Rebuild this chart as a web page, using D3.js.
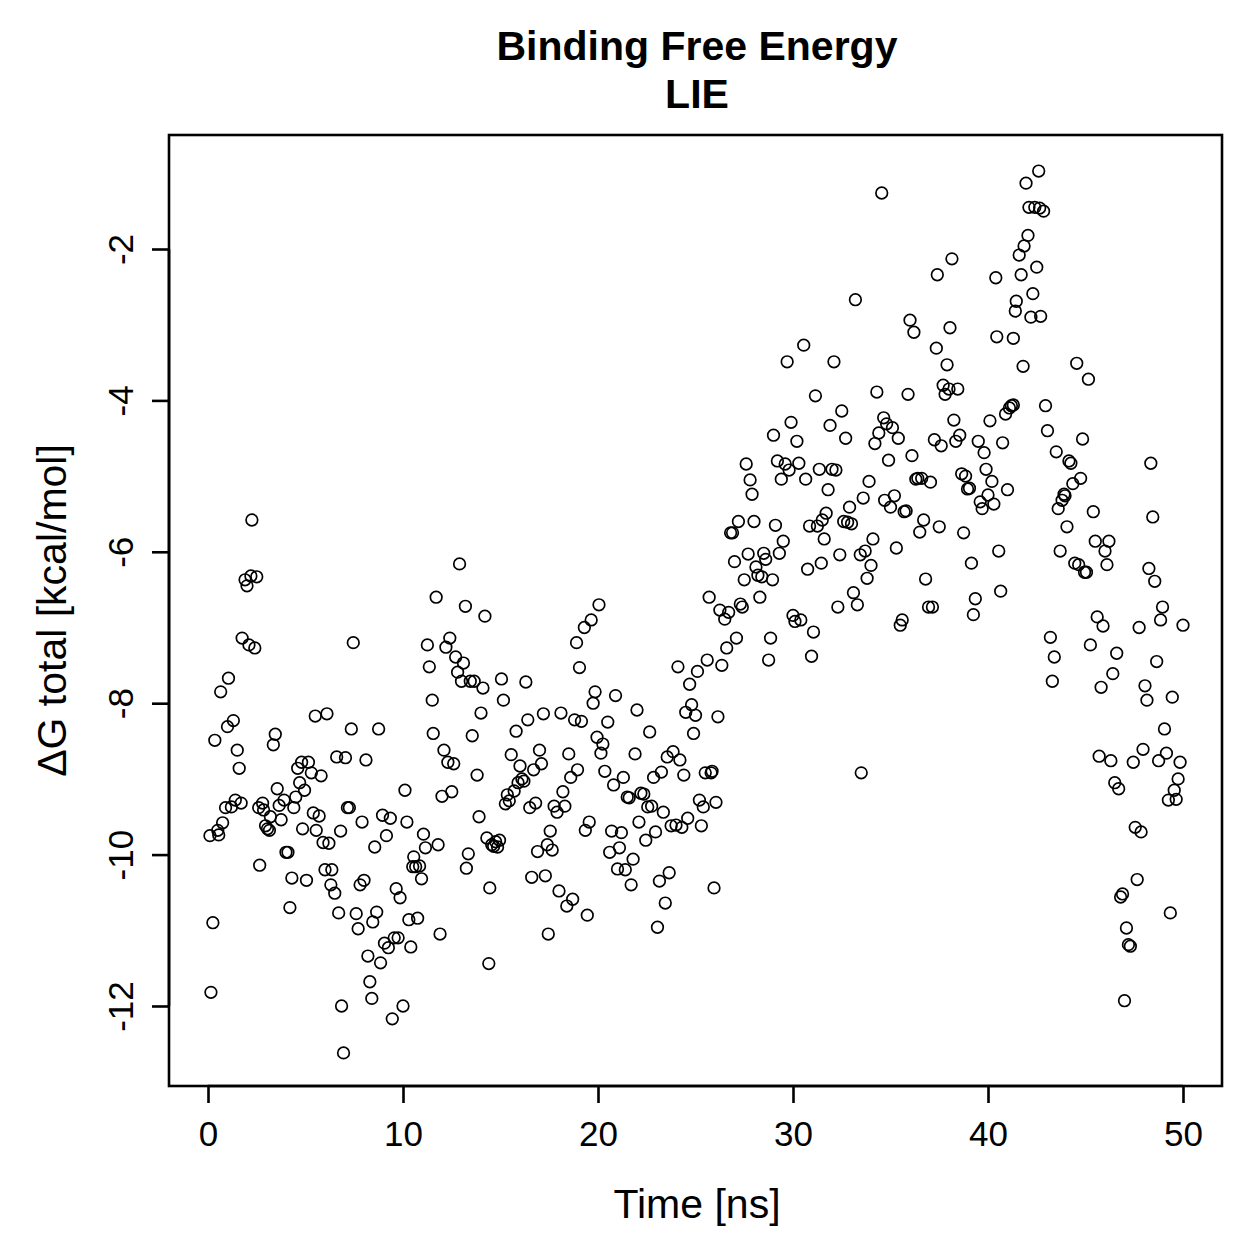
<!DOCTYPE html>
<html><head><meta charset="utf-8">
<script src="https://cdn.jsdelivr.net/npm/d3@7"></script>
<style>body{margin:0;background:#fff}</style>
</head><body>
<script>
const xTicks = [0, 10, 20, 30, 40, 50];
const yTicks = [-12, -10, -8, -6, -4, -2];
const time = [0.1,0.15,0.25,0.35,0.5,0.55,0.65,0.75,0.9,1.0,1.05,1.2,1.3,1.4,1.5,1.6,1.7,1.75,1.9,2.0,2.1,2.2,2.25,2.4,2.5,2.6,2.65,2.8,2.85,2.95,3.05,3.15,3.2,3.35,3.45,3.55,3.65,3.75,3.9,4.0,4.1,4.2,4.3,4.4,4.5,4.6,4.7,4.8,4.85,4.95,5.05,5.15,5.3,5.4,5.5,5.55,5.7,5.8,5.9,6.0,6.1,6.2,6.3,6.35,6.5,6.6,6.7,6.8,6.85,6.95,7.05,7.15,7.25,7.35,7.45,7.6,7.7,7.8,7.9,8.0,8.1,8.2,8.3,8.4,8.45,8.55,8.65,8.75,8.85,8.95,9.05,9.15,9.25,9.35,9.45,9.55,9.65,9.75,9.85,10.0,10.1,10.2,10.3,10.4,10.5,10.55,10.65,10.75,10.85,10.95,11.05,11.15,11.25,11.35,11.5,11.55,11.7,11.8,11.9,12.0,12.1,12.2,12.3,12.4,12.5,12.6,12.7,12.8,12.9,13.0,13.1,13.2,13.25,13.35,13.45,13.55,13.65,13.8,13.9,14.0,14.1,14.2,14.3,14.4,14.45,14.55,14.65,14.75,14.85,14.95,15.05,15.15,15.25,15.35,15.45,15.55,15.7,15.8,15.9,16.0,16.1,16.2,16.3,16.4,16.5,16.6,16.7,16.8,16.9,17.0,17.1,17.2,17.3,17.4,17.45,17.55,17.65,17.75,17.9,18.0,18.1,18.2,18.3,18.4,18.5,18.6,18.7,18.8,18.9,18.95,19.05,19.15,19.3,19.35,19.45,19.55,19.65,19.75,19.85,19.95,20.05,20.15,20.25,20.35,20.5,20.6,20.7,20.8,20.9,21.0,21.1,21.2,21.3,21.4,21.5,21.6,21.7,21.8,21.9,22.0,22.1,22.2,22.35,22.45,22.55,22.65,22.75,22.85,22.95,23.05,23.15,23.25,23.35,23.45,23.55,23.65,23.75,23.85,24.0,24.1,24.2,24.3,24.4,24.5,24.6,24.7,24.8,24.9,25.0,25.1,25.2,25.3,25.4,25.5,25.6,25.7,25.8,25.85,25.95,26.05,26.15,26.25,26.35,26.5,26.6,26.7,26.8,26.9,27.0,27.1,27.2,27.3,27.4,27.5,27.6,27.7,27.8,27.9,28.0,28.1,28.2,28.3,28.4,28.5,28.6,28.75,28.85,28.95,29.0,29.1,29.2,29.3,29.4,29.5,29.6,29.7,29.8,29.9,30.0,30.1,30.2,30.3,30.4,30.55,30.65,30.75,30.85,30.95,31.05,31.15,31.25,31.35,31.45,31.5,31.6,31.7,31.8,31.9,32.0,32.1,32.2,32.3,32.4,32.5,32.6,32.7,32.8,32.9,33.0,33.1,33.2,33.3,33.45,33.5,33.6,33.7,33.8,33.9,34.0,34.1,34.2,34.3,34.4,34.55,34.65,34.7,34.8,34.9,35.0,35.1,35.2,35.3,35.4,35.5,35.6,35.7,35.8,35.9,36.0,36.1,36.2,36.3,36.4,36.5,36.6,36.7,36.8,36.95,37.05,37.15,37.25,37.35,37.4,37.5,37.6,37.7,37.8,37.9,38.0,38.05,38.15,38.25,38.35,38.45,38.55,38.65,38.75,38.85,38.95,39.05,39.15,39.25,39.35,39.5,39.6,39.7,39.8,39.9,40.0,40.1,40.2,40.3,40.4,40.45,40.55,40.65,40.75,40.9,41.0,41.1,41.2,41.3,41.3,41.4,41.45,41.6,41.7,41.8,41.85,41.95,42.05,42.1,42.2,42.3,42.4,42.5,42.6,42.65,42.7,42.85,42.95,43.05,43.2,43.3,43.4,43.5,43.6,43.7,43.8,43.9,43.95,44.05,44.15,44.25,44.35,44.45,44.55,44.65,44.75,44.85,44.95,45.05,45.15,45.25,45.4,45.5,45.6,45.7,45.8,45.9,46.0,46.1,46.2,46.3,46.4,46.5,46.6,46.7,46.8,46.9,47.0,47.1,47.2,47.3,47.45,47.55,47.65,47.75,47.85,47.95,48.05,48.15,48.25,48.35,48.45,48.55,48.65,48.75,48.85,48.95,49.05,49.15,49.25,49.35,49.45,49.55,49.65,49.75,49.85,50.0];
const dG = [-9.75,-11.82,-10.9,-8.49,-9.68,-9.74,-7.85,-9.58,-9.38,-8.31,-7.67,-9.37,-8.23,-9.28,-8.62,-8.86,-9.32,-7.14,-6.37,-6.45,-7.23,-6.32,-5.58,-7.27,-6.33,-9.38,-10.14,-9.32,-9.41,-9.62,-9.66,-9.68,-9.5,-8.55,-8.41,-9.13,-9.35,-9.54,-9.28,-9.97,-9.97,-10.7,-10.31,-9.38,-9.24,-8.86,-9.05,-8.78,-9.66,-9.15,-10.34,-8.78,-8.92,-9.45,-8.17,-9.68,-9.49,-8.96,-9.84,-10.2,-8.14,-9.85,-10.4,-10.2,-10.51,-8.71,-10.77,-9.69,-12.0,-12.62,-8.72,-9.38,-9.38,-8.34,-7.2,-10.78,-10.98,-10.4,-9.57,-10.34,-8.75,-11.34,-11.68,-11.9,-10.89,-9.9,-10.76,-8.34,-11.43,-9.48,-11.17,-9.75,-11.23,-9.52,-12.17,-11.1,-10.45,-11.1,-10.57,-12.0,-9.15,-9.57,-10.86,-11.22,-10.16,-10.03,-10.16,-10.84,-10.15,-10.32,-9.73,-9.91,-7.23,-7.52,-7.96,-8.4,-6.6,-9.87,-11.05,-9.23,-8.62,-7.26,-8.78,-7.14,-9.17,-8.8,-7.39,-7.59,-6.16,-7.71,-7.47,-6.72,-10.18,-9.99,-7.71,-8.43,-7.71,-8.95,-9.5,-8.13,-7.8,-6.85,-9.78,-11.44,-10.44,-9.87,-9.89,-9.83,-9.9,-9.81,-7.68,-7.96,-9.33,-9.21,-9.29,-8.68,-9.16,-8.37,-9.05,-8.83,-9.0,-9.03,-7.72,-8.22,-9.38,-10.3,-8.88,-9.32,-9.96,-8.62,-8.8,-8.14,-10.28,-9.87,-11.05,-9.69,-9.94,-9.36,-9.44,-10.48,-8.13,-9.17,-9.36,-10.68,-8.67,-8.98,-10.59,-8.22,-7.2,-8.88,-7.53,-8.24,-7.0,-9.68,-10.8,-9.57,-6.9,-8.0,-7.85,-8.45,-6.7,-8.66,-8.54,-8.9,-8.25,-9.97,-9.69,-9.08,-7.9,-10.19,-9.91,-9.71,-8.98,-10.2,-9.24,-9.25,-10.4,-10.06,-8.67,-8.09,-9.57,-9.19,-9.2,-9.81,-9.37,-8.38,-9.36,-8.98,-9.7,-10.96,-10.35,-8.91,-9.44,-10.64,-8.71,-10.24,-9.62,-8.64,-9.61,-7.52,-8.75,-9.64,-8.95,-8.12,-9.52,-7.75,-8.02,-8.4,-8.16,-7.58,-9.28,-9.62,-9.37,-8.92,-7.43,-6.6,-8.92,-8.9,-10.44,-9.31,-8.18,-6.77,-7.5,-6.89,-7.27,-6.8,-5.75,-5.75,-6.13,-7.14,-5.6,-6.69,-6.73,-6.37,-4.84,-6.03,-5.05,-5.24,-5.6,-6.2,-6.31,-6.6,-6.33,-6.02,-6.1,-7.43,-7.14,-6.37,-4.46,-5.65,-4.8,-6.02,-5.04,-5.86,-4.84,-3.49,-4.92,-4.29,-6.84,-6.92,-4.54,-4.83,-6.9,-3.27,-5.04,-6.23,-5.66,-7.38,-7.06,-3.94,-5.66,-4.91,-6.15,-5.58,-5.83,-5.49,-5.18,-4.33,-4.91,-3.49,-4.92,-6.73,-6.04,-4.14,-5.6,-4.5,-5.61,-5.41,-5.63,-6.54,-2.67,-6.7,-6.04,-8.92,-5.29,-5.99,-6.35,-5.07,-6.18,-5.83,-4.57,-3.89,-4.43,-1.26,-4.23,-5.32,-4.31,-4.79,-5.41,-4.36,-5.26,-5.95,-4.5,-6.97,-6.9,-5.47,-5.46,-3.92,-2.94,-4.73,-3.1,-5.04,-5.03,-5.74,-5.03,-5.58,-6.36,-6.73,-5.08,-6.73,-4.52,-3.31,-2.34,-5.67,-4.6,-3.8,-3.92,-3.53,-3.85,-3.04,-2.13,-4.26,-4.54,-3.85,-4.46,-4.97,-5.75,-5.0,-5.17,-5.16,-6.15,-6.83,-6.62,-4.54,-5.34,-5.43,-4.69,-4.91,-5.25,-4.27,-5.07,-5.37,-2.38,-3.16,-5.99,-6.52,-4.56,-4.18,-5.18,-4.1,-4.07,-4.06,-3.18,-2.82,-2.69,-2.08,-2.34,-3.55,-1.96,-1.13,-1.82,-1.45,-2.9,-2.59,-1.45,-2.24,-0.97,-1.46,-2.89,-1.5,-4.07,-4.4,-7.13,-7.71,-7.39,-4.68,-5.43,-5.99,-5.32,-5.24,-5.26,-5.67,-4.8,-4.83,-5.1,-6.15,-3.51,-6.17,-5.03,-4.51,-6.27,-6.27,-3.72,-7.23,-5.47,-5.86,-6.86,-8.7,-7.79,-6.98,-5.99,-6.17,-5.86,-8.76,-7.61,-9.05,-7.34,-9.13,-10.56,-10.52,-11.93,-10.97,-11.19,-11.21,-8.78,-9.64,-10.33,-7.0,-9.7,-8.61,-7.77,-7.96,-6.22,-4.83,-5.54,-6.39,-7.45,-8.76,-6.9,-6.73,-8.34,-8.66,-9.28,-10.77,-7.92,-9.15,-9.27,-9.0,-8.78,-6.97];

const W = 1259, H = 1259;
const L = 169, R = 1222, T = 135, B = 1086;
const font = "'Liberation Sans', Arial, Helvetica, sans-serif";

const svg = d3.select("body").append("svg").attr("width", W).attr("height", H)
  .style("font-family", font);

const x = d3.scaleLinear().domain([-2, 52]).range([L, R]);
const y = d3.scaleLinear().domain([-13.057, -0.494]).range([B, T]);

const data = time.map((t, i) => ({t, v: dG[i]}));

svg.append("g").selectAll("circle").data(data).join("circle")
  .attr("cx", d => x(d.t)).attr("cy", d => y(d.v)).attr("r", 5.8)
  .attr("fill", "none").attr("stroke", "#000").attr("stroke-width", 1.7);

svg.append("rect").attr("x", L).attr("y", T).attr("width", R - L).attr("height", B - T)
  .attr("fill", "none").attr("stroke", "#000").attr("stroke-width", 2.6);

const xAxis = svg.append("g").attr("transform", `translate(0,${B})`)
  .call(d3.axisBottom(x).tickValues(xTicks).tickSize(17).tickPadding(18).tickFormat(d3.format("d")));
xAxis.select(".domain").attr("d", `M${x(0)},0H${x(50)}`).attr("stroke-width", 2.6);
xAxis.selectAll(".tick line").attr("stroke-width", 2.6);
xAxis.selectAll("text").attr("font-size", 35).attr("font-family", font).attr("fill", "#000");

const yAxis = svg.append("g").attr("transform", `translate(${L},0)`)
  .call(d3.axisLeft(y).tickValues(yTicks).tickSize(17).tickFormat(d => String(d)));
yAxis.select(".domain").attr("d", `M0,${y(-12)}V${y(-2)}`).attr("stroke-width", 2.6);
yAxis.selectAll(".tick line").attr("stroke-width", 2.6);
yAxis.selectAll("text").attr("font-size", 35).attr("font-family", font).attr("fill", "#000")
  .attr("transform", "rotate(-90)").attr("x", 0).attr("y", -36).attr("dy", 0)
  .attr("text-anchor", "middle");

svg.append("text").attr("x", 697).attr("y", 60).attr("text-anchor", "middle")
  .attr("font-size", 41).attr("font-weight", "bold").text("Binding Free Energy");
svg.append("text").attr("x", 697).attr("y", 108).attr("text-anchor", "middle")
  .attr("font-size", 41).attr("font-weight", "bold").text("LIE");

svg.append("text").attr("x", 697).attr("y", 1218).attr("text-anchor", "middle")
  .attr("font-size", 41).text("Time [ns]");
svg.append("text").attr("transform", `translate(66,${(T + B) / 2}) rotate(-90)`)
  .attr("text-anchor", "middle").attr("font-size", 41).text("ΔG total [kcal/mol]");
</script>
</body></html>
